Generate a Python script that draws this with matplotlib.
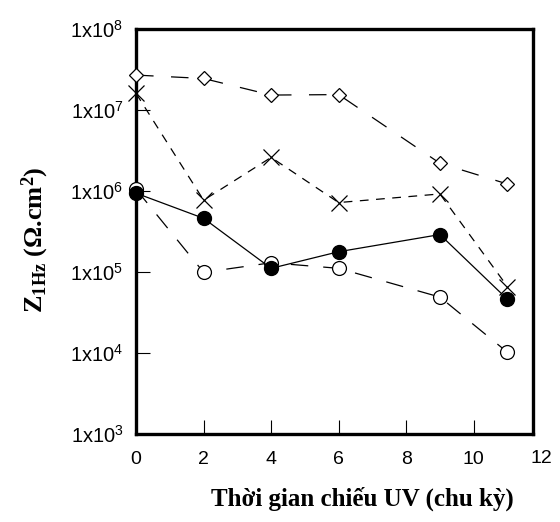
import matplotlib
matplotlib.use("Agg")
import matplotlib.pyplot as plt

plt.rcParams['mathtext.fontset'] = 'custom'
plt.rcParams['mathtext.rm'] = 'Liberation Serif'
plt.rcParams['mathtext.bf'] = 'Liberation Serif:bold'
plt.rcParams['mathtext.sf'] = 'Liberation Sans'
plt.rcParams['font.family'] = ['Liberation Sans', 'DejaVu Sans']

cycles = [0, 2, 4, 6, 9, 11]
z_diamond = [2.7e7, 2.45e7, 1.53e7, 1.55e7, 2.2e6, 1.22e6]
z_cross = [1.6e7, 7.7e5, 2.6e6, 7.2e5, 9.2e5, 6.6e4]
z_filled = [9.4e5, 4.6e5, 1.11e5, 1.78e5, 2.9e5, 4.6e4]
z_open = [1.05e6, 9.9e4, 1.3e5, 1.11e5, 4.9e4, 1.02e4]

xticks = [0, 2, 4, 6, 8, 10, 12]
yticks = [1e3, 1e4, 1e5, 1e6, 1e7, 1e8]
ytick_labels = [r"$\mathsf{1x10^{%d}}$" % e for e in range(3, 9)]

fig = plt.figure(figsize=(5.6, 5.22), dpi=100)
ax = fig.add_axes([0.243, 0.1686, 0.709, 0.7758])

ax.plot(cycles, z_diamond, color='black', lw=0.9, dashes=(14, 14),
        marker='D', markersize=7.5, mfc='white', mec='black', mew=0.9, clip_on=False, zorder=3)
ax.plot(cycles, z_cross, color='black', lw=0.9, dashes=(7, 6),
        marker='x', markersize=12, mec='black', mew=0.9, clip_on=False, zorder=3)
ax.plot(cycles, z_open, color='black', lw=0.9, dashes=(14, 12),
        marker='o', markersize=10, mfc='white', mec='black', mew=0.9, clip_on=False, zorder=4)
ax.plot(cycles, z_filled, color='black', lw=0.9, linestyle='-',
        marker='o', markersize=10, mfc='black', mec='black', clip_on=False, zorder=5)

ax.set_yscale('log')
ax.set_ylim(1e3, 1e8)
ax.set_xlim(0, 11.76)
ax.set_xticks(xticks[:-1])
ax.set_xticklabels([str(v) for v in xticks[:-1]], fontsize=14)
ax.text(xticks[-1], -0.04, str(xticks[-1]), transform=ax.get_xaxis_transform(),
        ha='center', va='top', fontsize=14, clip_on=False)
ax.set_yticks(yticks)
ax.set_yticklabels(ytick_labels, fontsize=14.5)
ax.minorticks_off()
ax.tick_params(axis='both', direction='in', length=10, width=0.8, colors='black')
ax.tick_params(axis='x', pad=12)
ax.tick_params(axis='y', pad=9)
for s in ax.spines.values():
    s.set_linewidth(2.4)

ax.set_xlabel("Thời gian chiếu UV (chu kỳ)", fontsize=18, fontweight='bold',
              family=['Liberation Serif', 'DejaVu Serif'])
ax.xaxis.set_label_coords(0.57, -0.13)
ax.set_ylabel(r"$\mathbf{Z_{1Hz}}$ (Ω.cm$\mathbf{^{2}}$)", fontsize=19, fontweight='bold',
              family=['Liberation Serif', 'DejaVu Serif'])
ax.yaxis.set_label_coords(-0.215, 0.48)

fig.savefig("out.png", dpi=100)
